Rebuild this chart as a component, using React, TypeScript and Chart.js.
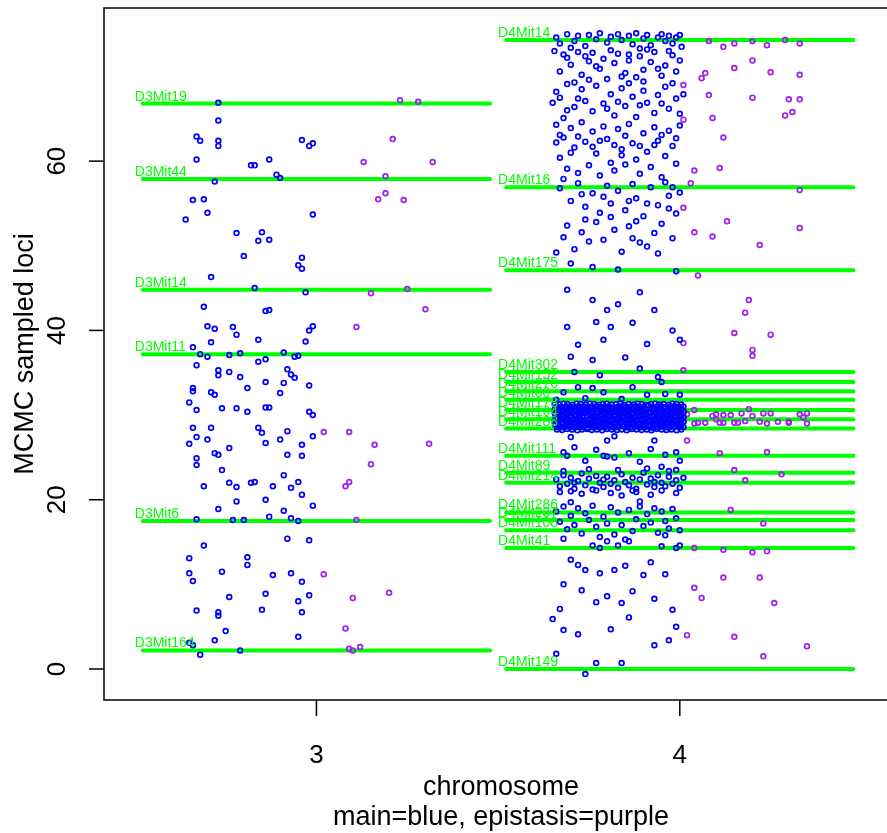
import { useEffect, useRef } from "react";
import { Chart, registerables } from "chart.js";

Chart.register(...registerables);

// ---------- axes ----------
const xTicks = [3, 4];
const yTicks = [0, 20, 40, 60];
const xTitle = "chromosome";
const xSubTitle = "main=blue, epistasis=purple";
const yTitle = "MCMC sampled loci";
const xMin = 2.4153;
const xMax = 4.5546;
const yMin = -3.66;
const yMax = 78.09;

// ---------- markers (green lines) ----------
const chr3MarkerNames = ["D3Mit164", "D3Mit6", "D3Mit11", "D3Mit14", "D3Mit44", "D3Mit19"];
const chr3MarkerLoci = [2.2, 17.5, 37.2, 44.8, 57.9, 66.8];
const chr4MarkerNames = [
  "D4Mit149", "D4Mit41", "D4Mit108", "D4Mit237", "D4Mit286", "D4Mit214", "D4Mit89",
  "D4Mit111", "D4Mit288", "D4Mit164", "D4Mit178", "D4Mit80", "D4Mit276", "D4Mit152",
  "D4Mit302", "D4Mit175", "D4Mit16", "D4Mit14",
];
const chr4MarkerLoci = [
  0.0, 14.3, 16.4, 17.6, 18.5, 22.0, 23.2, 25.2, 28.4, 29.5, 30.6, 31.8, 32.8, 33.9,
  35.1, 47.1, 56.9, 74.3,
];

// ---------- sampled loci: chromosome 3 ----------
const chr3Main: [number, number][] = [
  [2.73, 66.9], [2.73, 64.8], [2.67, 62.9], [2.68, 62.4], [2.73, 62.4], [2.73, 61.8],
  [2.96, 62.5], [2.98, 61.8], [2.99, 62.1], [2.67, 60.2], [2.82, 59.5], [2.83, 59.5],
  [2.87, 60.2], [2.89, 58.4], [2.9, 58.0], [2.72, 57.6], [2.66, 55.4], [2.69, 55.5],
  [2.64, 53.1], [2.7, 53.9], [2.99, 53.7], [2.78, 51.5], [2.85, 51.6], [2.8, 48.8],
  [2.84, 50.6], [2.87, 50.7], [2.95, 47.7], [2.96, 48.6], [2.96, 47.3], [2.71, 46.3],
  [2.83, 45.0], [2.97, 44.5], [2.86, 42.3], [2.87, 42.4], [2.69, 42.8], [2.7, 40.5],
  [2.72, 40.2], [2.77, 40.4], [2.78, 39.5], [2.71, 38.6], [2.84, 38.9], [2.99, 40.5],
  [2.98, 40.0], [2.97, 38.7], [2.94, 36.9], [2.95, 37.0], [2.79, 37.3], [2.76, 37.1],
  [2.66, 38.0], [2.68, 37.2], [2.7, 36.9], [2.67, 35.9], [2.86, 36.6], [2.91, 37.4],
  [2.84, 36.3], [2.92, 35.4], [2.93, 34.8], [2.73, 35.3], [2.76, 35.1], [2.66, 33.2],
  [2.66, 32.8], [2.73, 34.7], [2.79, 34.5], [2.86, 33.9], [2.71, 32.7], [2.72, 32.4],
  [2.81, 33.2], [2.91, 33.8], [2.94, 34.4], [2.9, 32.6], [2.98, 33.5], [2.74, 30.8],
  [2.78, 30.8], [2.81, 30.4], [2.86, 30.9], [2.87, 30.9], [2.98, 30.4], [2.99, 30.0],
  [2.65, 31.5], [2.67, 30.6], [2.66, 28.5], [2.67, 27.4], [2.7, 27.1], [2.71, 28.5],
  [2.65, 26.6], [2.72, 25.5], [2.76, 26.1], [2.84, 28.5], [2.85, 27.9], [2.92, 28.1],
  [2.86, 26.7], [2.9, 27.1], [2.92, 25.3], [2.96, 25.2], [2.96, 26.5], [2.99, 27.5],
  [2.67, 24.9], [2.73, 25.3], [2.67, 24.1], [2.69, 21.6], [2.74, 23.5], [2.76, 22.0],
  [2.78, 21.5], [2.82, 22.0], [2.83, 22.1], [2.88, 21.6], [2.91, 22.9], [2.93, 21.4],
  [2.95, 22.1], [2.78, 19.8], [2.86, 20.0], [2.96, 20.6], [2.73, 18.9], [2.67, 17.7],
  [2.77, 17.6], [2.8, 17.6], [2.87, 18.0], [2.91, 18.7], [2.93, 17.8], [2.99, 19.3],
  [2.95, 17.5], [2.98, 15.2], [2.92, 15.4], [2.69, 14.6], [2.65, 13.1], [2.81, 13.2],
  [2.65, 11.3], [2.66, 10.4], [2.74, 11.5], [2.81, 12.3], [2.88, 11.1], [2.93, 11.3],
  [2.96, 10.3], [2.73, 6.7], [2.73, 6.3], [2.76, 8.5], [2.85, 7.0], [2.86, 8.9],
  [2.95, 8.0], [2.96, 6.7], [2.98, 8.7], [2.95, 3.8], [2.75, 4.5], [2.67, 6.9],
  [2.72, 3.4], [2.65, 3.1], [2.79, 2.2], [2.68, 1.7], [2.66, 2.8],
];

const chr3Epistasis: [number, number][] = [
  [3.23, 67.2], [3.28, 67.0], [3.21, 62.6], [3.13, 59.9], [3.19, 58.2], [3.32, 59.9],
  [3.19, 56.2], [3.17, 55.5], [3.24, 55.4], [3.15, 44.4], [3.25, 44.9], [3.3, 42.5],
  [3.11, 40.4], [3.02, 28.0], [3.09, 28.0], [3.16, 26.5], [3.31, 26.6], [3.15, 24.2],
  [3.09, 22.1], [3.08, 21.6], [3.11, 17.6], [3.02, 11.2], [3.1, 8.4], [3.2, 9.0],
  [3.08, 4.8], [3.09, 2.4], [3.1, 2.2], [3.12, 2.6],
];

// ---------- sampled loci: chromosome 4 ----------
const chr4MainUpper: [number, number][] = [
  [3.66, 74.6], [3.67, 73.9], [3.69, 75.0], [3.71, 74.2], [3.72, 74.8], [3.74, 73.6],
  [3.75, 74.9], [3.77, 74.4], [3.78, 75.1], [3.8, 74.0], [3.81, 74.7], [3.83, 75.0],
  [3.84, 74.3], [3.86, 74.8], [3.87, 73.8], [3.88, 75.1], [3.9, 74.5], [3.91, 74.9],
  [3.92, 73.7], [3.94, 74.6], [3.95, 75.0], [3.96, 74.2], [3.97, 74.8], [3.98, 73.9],
  [3.99, 74.6], [4.0, 74.9], [3.7, 73.4], [3.89, 73.3],
  [3.655, 73.0], [3.69, 72.2], [3.74, 72.4], [3.81, 73.1], [3.86, 72.6], [3.91, 73.2],
  [3.97, 73.0], [4.005, 73.5],
  [3.68, 72.6], [3.7, 71.4], [3.72, 72.9], [3.73, 70.2], [3.75, 71.8], [3.76, 72.8],
  [3.78, 70.9], [3.79, 72.1], [3.8, 69.7], [3.82, 71.6], [3.83, 72.7], [3.85, 70.4],
  [3.86, 71.9], [3.88, 69.9], [3.89, 72.4], [3.9, 70.8], [3.92, 71.7], [3.93, 72.9],
  [3.95, 70.1], [3.96, 71.3], [3.98, 72.5], [3.99, 70.6], [4.0, 71.9],
  [3.67, 70.6], [3.71, 69.3], [3.77, 71.2], [3.84, 70.0], [3.9, 69.4], [3.94, 70.9],
  [3.98, 69.2],
  [3.66, 68.2], [3.67, 67.5], [3.69, 69.1], [3.71, 66.4], [3.73, 68.5], [3.74, 67.1],
  [3.76, 65.9], [3.77, 68.9], [3.79, 66.8], [3.81, 67.9], [3.82, 65.4], [3.84, 68.6],
  [3.85, 66.5], [3.87, 67.6], [3.88, 65.2], [3.9, 68.3], [3.91, 66.9], [3.93, 65.7],
  [3.94, 67.8], [3.96, 68.8], [3.97, 66.2], [3.99, 67.4], [4.0, 65.6], [3.65, 66.9],
  [3.68, 65.1], [3.75, 69.6], [3.86, 69.2],
  [3.69, 66.0], [3.72, 67.4], [3.8, 66.2], [3.83, 67.0], [3.89, 66.6], [3.95, 66.8],
  [4.01, 67.9],
  [3.66, 64.3], [3.68, 62.8], [3.7, 63.9], [3.71, 61.6], [3.73, 64.6], [3.74, 62.3],
  [3.76, 63.5], [3.77, 60.9], [3.79, 64.1], [3.8, 62.6], [3.81, 59.8], [3.83, 63.8],
  [3.84, 61.4], [3.86, 64.4], [3.87, 62.1], [3.88, 60.2], [3.9, 63.3], [3.91, 61.1],
  [3.93, 64.0], [3.94, 62.4], [3.96, 60.6], [3.97, 63.6], [3.98, 61.8], [4.0, 64.2],
  [3.67, 60.4], [3.69, 59.1], [3.72, 58.6], [3.75, 59.5], [3.78, 58.3], [3.82, 58.9],
  [3.85, 59.6], [3.89, 58.5], [3.92, 59.3], [3.95, 58.1], [3.99, 59.7], [3.7, 61.0],
  [3.84, 60.7], [3.93, 61.9], [3.76, 61.7], [3.66, 62.2],
  [3.67, 63.1], [3.72, 62.9], [3.78, 62.4], [3.82, 61.9], [3.85, 63.0], [3.89, 61.8],
  [3.95, 63.1], [3.99, 62.7],
  [3.67, 56.8], [3.7, 55.3], [3.72, 57.4], [3.74, 54.6], [3.76, 56.2], [3.78, 53.9],
  [3.8, 57.1], [3.81, 55.0], [3.83, 56.5], [3.85, 54.2], [3.87, 57.3], [3.88, 55.6],
  [3.9, 53.5], [3.92, 56.9], [3.94, 54.8], [3.96, 57.5], [3.97, 55.9], [3.99, 53.8],
  [4.0, 56.3], [3.69, 52.4], [3.73, 51.6], [3.77, 52.8], [3.79, 50.7], [3.82, 51.9],
  [3.86, 52.3], [3.89, 50.4], [3.93, 51.5], [3.95, 52.6], [3.98, 50.9], [3.71, 49.6],
  [3.84, 49.3], [3.91, 49.9], [3.66, 49.2],
  [3.68, 57.9], [3.73, 56.1], [3.79, 55.8], [3.86, 55.3], [3.91, 55.0], [3.98, 56.9],
  [3.74, 53.1], [3.81, 53.4], [3.88, 52.9], [3.97, 54.4], [3.68, 51.0], [3.75, 50.5],
  [3.87, 50.9], [3.94, 49.1],
  [3.76, 47.5], [3.83, 47.2], [3.99, 47.0], [3.7, 47.9],
  [3.69, 44.8], [3.76, 43.6], [3.89, 44.5], [3.8, 42.4], [3.83, 43.1], [3.77, 41.0],
  [3.69, 40.4], [3.81, 40.4], [3.87, 40.9], [3.72, 38.3], [3.79, 38.9], [3.7, 36.9],
  [3.76, 36.5], [3.85, 36.8], [3.91, 38.4], [3.98, 40.0], [3.93, 42.4], [4.0, 38.9],
  [3.71, 35.1], [3.78, 34.7], [3.89, 35.5], [3.94, 34.5], [3.72, 33.3], [3.76, 33.2],
  [3.79, 32.7], [3.87, 33.3], [3.95, 33.9], [3.96, 32.5], [3.74, 32.0], [3.84, 31.9],
  [3.91, 32.4], [3.68, 32.7], [4.0, 32.4], [3.66, 31.8],
];

// dense cluster of sampled loci around 28-31.5 cM on chromosome 4
const chr4MainCluster: [number, number][] = [
  [3.656, 31.3], [3.669, 31.25], [3.68, 31.35], [3.691, 31.3], [3.705, 31.2], [3.716, 31.35],
  [3.727, 31.3], [3.741, 31.25], [3.752, 31.35], [3.764, 31.3], [3.777, 31.2], [3.788, 31.3],
  [3.799, 31.35], [3.812, 31.25], [3.825, 31.3], [3.836, 31.35], [3.847, 31.2], [3.86, 31.3],
  [3.873, 31.25], [3.884, 31.35], [3.895, 31.3], [3.908, 31.2], [3.921, 31.3], [3.932, 31.35],
  [3.943, 31.25], [3.956, 31.3], [3.969, 31.2], [3.98, 31.35], [3.991, 31.3], [4.004, 31.25],
  [3.662, 31.0], [3.674, 30.95], [3.687, 31.05], [3.698, 31.0], [3.709, 30.95], [3.722, 31.05],
  [3.735, 31.0], [3.746, 30.9], [3.757, 31.0], [3.77, 31.05], [3.783, 30.95], [3.794, 31.0],
  [3.805, 31.05], [3.818, 30.9], [3.831, 31.0], [3.842, 31.05], [3.853, 30.95], [3.866, 31.0],
  [3.879, 31.05], [3.89, 30.95], [3.901, 31.0], [3.914, 31.1], [3.927, 30.95], [3.938, 31.0],
  [3.949, 31.05], [3.962, 30.95], [3.975, 31.0], [3.986, 31.05], [3.997, 30.95], [4.01, 31.0],
  [3.656, 30.7], [3.668, 30.75], [3.681, 30.65], [3.692, 30.7], [3.703, 30.75], [3.716, 30.65],
  [3.729, 30.7], [3.74, 30.75], [3.751, 30.6], [3.764, 30.7], [3.777, 30.75], [3.788, 30.65],
  [3.8, 30.7], [3.813, 30.75], [3.824, 30.65], [3.835, 30.7], [3.848, 30.75], [3.861, 30.6],
  [3.872, 30.7], [3.883, 30.75], [3.896, 30.65], [3.909, 30.7], [3.92, 30.75], [3.931, 30.65],
  [3.944, 30.7], [3.957, 30.8], [3.968, 30.65], [3.979, 30.7], [3.992, 30.75], [4.005, 30.65],
  [3.662, 30.4], [3.675, 30.45], [3.686, 30.35], [3.697, 30.4], [3.71, 30.45], [3.723, 30.35],
  [3.734, 30.4], [3.745, 30.45], [3.758, 30.35], [3.771, 30.4], [3.782, 30.5], [3.793, 30.35],
  [3.806, 30.4], [3.819, 30.45], [3.83, 30.35], [3.841, 30.4], [3.854, 30.45], [3.867, 30.3],
  [3.878, 30.4], [3.889, 30.45], [3.902, 30.35], [3.915, 30.4], [3.926, 30.45], [3.937, 30.35],
  [3.95, 30.4], [3.963, 30.45], [3.974, 30.35], [3.985, 30.4], [3.998, 30.45], [4.011, 30.4],
  [3.657, 30.1], [3.668, 30.15], [3.679, 30.05], [3.692, 30.1], [3.705, 30.15], [3.716, 30.05],
  [3.727, 30.1], [3.74, 30.2], [3.753, 30.05], [3.764, 30.1], [3.775, 30.15], [3.788, 30.05],
  [3.801, 30.1], [3.812, 30.15], [3.823, 30.0], [3.836, 30.1], [3.849, 30.15], [3.86, 30.05],
  [3.871, 30.1], [3.884, 30.15], [3.897, 30.05], [3.908, 30.1], [3.919, 30.2], [3.932, 30.05],
  [3.945, 30.1], [3.956, 30.15], [3.967, 30.05], [3.98, 30.1], [3.993, 30.15], [4.004, 30.05],
  [3.663, 29.8], [3.674, 29.85], [3.685, 29.75], [3.698, 29.8], [3.711, 29.85], [3.722, 29.75],
  [3.733, 29.8], [3.746, 29.9], [3.759, 29.75], [3.77, 29.8], [3.781, 29.85], [3.794, 29.75],
  [3.807, 29.8], [3.818, 29.85], [3.829, 29.7], [3.842, 29.8], [3.855, 29.85], [3.866, 29.75],
  [3.877, 29.8], [3.89, 29.85], [3.903, 29.75], [3.914, 29.8], [3.925, 29.9], [3.938, 29.75],
  [3.951, 29.8], [3.962, 29.85], [3.973, 29.75], [3.986, 29.8], [3.999, 29.85], [4.01, 29.75],
  [3.656, 29.5], [3.669, 29.45], [3.68, 29.55], [3.691, 29.5], [3.704, 29.45], [3.717, 29.55],
  [3.728, 29.5], [3.739, 29.4], [3.752, 29.5], [3.765, 29.55], [3.776, 29.45], [3.787, 29.5],
  [3.8, 29.55], [3.813, 29.45], [3.824, 29.5], [3.835, 29.6], [3.848, 29.45], [3.861, 29.5],
  [3.872, 29.55], [3.883, 29.45], [3.896, 29.5], [3.909, 29.55], [3.92, 29.4], [3.931, 29.5],
  [3.944, 29.55], [3.957, 29.45], [3.968, 29.5], [3.979, 29.55], [3.992, 29.45], [4.005, 29.5],
  [3.662, 29.2], [3.675, 29.15], [3.686, 29.25], [3.697, 29.2], [3.71, 29.15], [3.723, 29.25],
  [3.734, 29.2], [3.745, 29.1], [3.758, 29.2], [3.771, 29.25], [3.782, 29.15], [3.793, 29.2],
  [3.806, 29.3], [3.819, 29.15], [3.83, 29.2], [3.841, 29.25], [3.854, 29.15], [3.867, 29.2],
  [3.878, 29.25], [3.889, 29.1], [3.902, 29.2], [3.915, 29.25], [3.926, 29.15], [3.937, 29.2],
  [3.95, 29.25], [3.963, 29.15], [3.974, 29.2], [3.985, 29.3], [3.998, 29.15], [4.01, 29.2],
  [3.657, 28.9], [3.668, 28.85], [3.679, 28.95], [3.692, 28.9], [3.705, 28.85], [3.716, 28.95],
  [3.727, 28.9], [3.74, 28.8], [3.753, 28.9], [3.764, 28.95], [3.775, 28.85], [3.788, 28.9],
  [3.801, 28.95], [3.812, 28.85], [3.823, 28.9], [3.836, 29.0], [3.849, 28.85], [3.86, 28.9],
  [3.871, 28.95], [3.884, 28.85], [3.897, 28.9], [3.908, 28.95], [3.919, 28.8], [3.932, 28.9],
  [3.945, 28.95], [3.956, 28.85], [3.967, 28.9], [3.98, 28.95], [3.993, 28.85], [4.004, 28.9],
  [3.663, 28.6], [3.674, 28.55], [3.685, 28.65], [3.698, 28.6], [3.711, 28.55], [3.722, 28.65],
  [3.733, 28.6], [3.746, 28.5], [3.759, 28.6], [3.77, 28.65], [3.781, 28.55], [3.794, 28.6],
  [3.807, 28.65], [3.818, 28.55], [3.829, 28.6], [3.842, 28.7], [3.855, 28.55], [3.866, 28.6],
  [3.877, 28.65], [3.89, 28.55], [3.903, 28.6], [3.914, 28.65], [3.925, 28.5], [3.938, 28.6],
  [3.951, 28.65], [3.962, 28.55], [3.973, 28.6], [3.986, 28.65], [3.999, 28.55], [4.01, 28.6],
  [3.662, 28.3], [3.676, 28.25], [3.69, 28.35], [3.704, 28.3], [3.718, 28.2], [3.731, 28.3],
  [3.745, 28.35], [3.758, 28.25], [3.772, 28.3], [3.786, 28.2], [3.799, 28.35], [3.813, 28.3],
  [3.827, 28.25], [3.84, 28.3], [3.854, 28.2], [3.868, 28.35], [3.881, 28.3], [3.895, 28.25],
  [3.909, 28.3], [3.922, 28.2], [3.936, 28.35], [3.95, 28.3], [3.963, 28.25], [3.977, 28.3],
  [3.991, 28.2], [4.004, 28.3],
];

const chr4MainLower: [number, number][] = [
  [3.7, 27.4], [3.82, 27.5], [3.93, 27.0], [3.8, 27.0], [3.71, 26.2],
  [3.68, 25.6], [3.69, 25.2], [3.74, 24.6], [3.77, 25.9], [3.79, 25.2], [3.8, 25.1],
  [3.82, 25.0], [3.86, 25.5], [3.89, 24.5], [3.92, 26.0], [3.96, 25.3], [3.99, 25.6],
  [4.0, 24.6], [3.99, 23.5], [3.95, 23.9],
  [3.66, 22.4], [3.67, 21.6], [3.68, 22.9], [3.69, 21.9], [3.7, 22.6], [3.71, 21.3],
  [3.72, 22.2], [3.73, 23.1], [3.74, 21.7], [3.75, 22.5], [3.76, 21.2], [3.77, 22.8],
  [3.78, 22.0], [3.79, 21.5], [3.8, 22.7], [3.81, 21.9], [3.82, 22.3], [3.83, 21.4],
  [3.84, 23.0], [3.85, 22.1], [3.86, 21.7], [3.87, 22.6], [3.88, 21.3], [3.89, 22.4],
  [3.9, 23.2], [3.91, 21.8], [3.92, 22.5], [3.93, 21.5], [3.94, 22.9], [3.95, 22.0],
  [3.96, 21.6], [3.97, 22.7], [3.98, 21.9], [3.99, 22.3], [4.0, 21.4], [4.01, 22.6],
  [3.67, 20.9], [3.7, 21.0], [3.73, 20.7], [3.77, 21.1], [3.81, 20.8], [3.84, 20.5],
  [3.88, 20.9], [3.92, 20.6], [3.95, 21.1], [3.99, 20.8], [3.68, 23.4], [3.75, 23.6],
  [3.83, 23.5], [3.91, 23.7], [3.97, 23.4], [3.71, 22.0], [3.79, 22.4], [3.87, 21.1],
  [3.93, 22.1],
  [3.66, 18.6], [3.67, 17.4], [3.68, 19.2], [3.69, 16.5], [3.7, 18.1], [3.71, 17.0],
  [3.72, 19.0], [3.73, 16.0], [3.74, 18.4], [3.75, 17.6], [3.76, 19.3], [3.77, 16.8],
  [3.79, 18.0], [3.8, 17.2], [3.81, 19.1], [3.82, 15.9], [3.83, 18.5], [3.84, 17.0],
  [3.86, 18.8], [3.87, 16.3], [3.88, 17.7], [3.89, 19.2], [3.9, 16.9], [3.91, 18.3],
  [3.92, 17.3], [3.93, 19.0], [3.94, 16.1], [3.95, 18.6], [3.96, 17.5], [3.97, 16.6],
  [3.98, 18.9], [3.99, 17.8], [4.0, 16.4], [3.68, 15.4], [3.78, 15.6], [3.85, 15.3],
  [3.96, 15.8], [3.7, 19.7], [3.89, 19.8],
  [3.76, 14.6], [3.78, 14.3], [3.8, 15.1], [3.83, 14.6], [3.86, 15.1], [3.95, 14.5],
  [3.99, 14.3], [4.0, 14.6], [3.7, 12.9], [3.72, 12.3], [3.74, 11.7], [3.78, 11.3],
  [3.82, 11.7], [3.85, 12.2], [3.9, 11.1], [3.92, 12.6], [3.96, 11.2], [3.68, 10.0],
  [3.73, 9.3], [3.77, 7.9], [3.8, 8.6], [3.84, 7.8], [3.87, 9.2], [3.93, 8.3],
  [3.98, 7.0], [3.86, 6.1], [3.81, 4.7], [3.68, 4.6], [3.72, 4.1], [3.65, 5.9],
  [3.99, 5.0], [3.84, 0.7], [3.77, 0.7], [3.74, -0.6], [3.93, 2.8], [3.66, 1.8],
  [3.67, 7.1], [3.97, 3.4],
];

const chr4Epistasis: [number, number][] = [
  [4.08, 74.2], [4.12, 73.5], [4.15, 73.9], [4.2, 74.2], [4.24, 73.7], [4.29, 74.3],
  [4.33, 73.9], [4.2, 71.9], [4.15, 71.0], [4.07, 70.4], [4.06, 69.8], [4.25, 70.5],
  [4.33, 70.2], [4.01, 69.0], [4.08, 67.8], [4.2, 67.5], [4.3, 67.3], [4.33, 67.3],
  [4.09, 65.1], [4.29, 65.4], [4.31, 65.8], [4.12, 62.8], [4.01, 64.9], [4.04, 58.9],
  [4.11, 59.2], [4.03, 57.4], [4.33, 56.6], [4.01, 54.5], [4.13, 52.9], [4.09, 51.1],
  [4.04, 51.6], [4.33, 52.1], [4.22, 50.1], [4.05, 46.5], [4.19, 43.6], [4.18, 42.1],
  [4.15, 39.7], [4.25, 39.5], [4.2, 37.7], [4.2, 37.0], [4.01, 38.5], [4.01, 35.3],
  [4.01, 29.8], [4.01, 29.2], [4.02, 30.1], [4.04, 30.6], [4.04, 29.0], [4.05, 29.1],
  [4.07, 29.1], [4.09, 29.9], [4.1, 30.1], [4.11, 29.1], [4.12, 30.0], [4.12, 29.1],
  [4.14, 30.0], [4.15, 29.1], [4.16, 29.1], [4.17, 30.2], [4.18, 29.3], [4.19, 30.7],
  [4.2, 29.9], [4.22, 29.2], [4.23, 30.2], [4.24, 29.0], [4.25, 30.2], [4.27, 29.2],
  [4.3, 29.2], [4.3, 29.1], [4.33, 30.1], [4.34, 29.7], [4.35, 30.2], [4.35, 29.0],
  [4.1, 29.5],
  [4.02, 27.0], [4.11, 25.5], [4.24, 25.6], [4.15, 23.5], [4.28, 23.0], [4.18, 22.3],
  [4.14, 18.8], [4.23, 17.2], [4.04, 14.3], [4.12, 14.1], [4.2, 13.8], [4.24, 13.9],
  [4.22, 10.8], [4.12, 10.8], [4.06, 8.4], [4.26, 7.8], [4.02, 4.0], [4.15, 3.8],
  [4.23, 1.5], [4.35, 2.7], [4.04, 9.6],
];

const MAIN_COLOR = "#0000FF";
const EPI_COLOR = "#A020F0";
const MARKER_COLOR = "#00FF00";
const FONT = '"Liberation Sans", Arial, Helvetica, sans-serif';

export default function App() {
  const ref = useRef<HTMLCanvasElement | null>(null);

  useEffect(() => {
    const canvas = ref.current;
    if (!canvas) return;
    const halfLen = 0.478;
    const labelOffset = 0.5;
    const toPts = (arr: [number, number][]) => arr.map(([x, y]) => ({ x, y }));
    const lineData = (chr: number, loci: number[]) => {
      const d: { x: number; y: number | null }[] = [];
      loci.forEach((y) => {
        d.push({ x: chr - halfLen, y }, { x: chr + halfLen, y }, { x: chr + halfLen, y: null });
      });
      return d;
    };

    const pointDs = (arr: [number, number][], color: string) => ({
      type: "scatter" as const,
      data: toPts(arr),
      borderColor: color,
      backgroundColor: "rgba(0,0,0,0)",
      pointRadius: 2.4,
      pointBorderWidth: 1.7,
      borderWidth: 1.7,
      pointStyle: "circle" as const,
      order: 1,
    });

    const markerLabels = {
      id: "markerLabels",
      afterDatasetsDraw(chart: any) {
        const { ctx, scales } = chart;
        const xs = scales.x;
        const ys = scales.y;
        ctx.save();
        ctx.fillStyle = MARKER_COLOR;
        ctx.font = `14px ${FONT}`;
        ctx.textAlign = "left";
        ctx.textBaseline = "alphabetic";
        const draw = (chr: number, names: string[], loci: number[]) => {
          names.forEach((n, i) => {
            ctx.fillText(n, xs.getPixelForValue(chr - labelOffset), ys.getPixelForValue(loci[i]) - 3);
          });
        };
        draw(3, chr3MarkerNames, chr3MarkerLoci);
        draw(4, chr4MarkerNames, chr4MarkerLoci);
        ctx.restore();
      },
    };

    const rAxes = {
      id: "rAxes",
      afterDraw(chart: any) {
        const { ctx, scales, chartArea } = chart;
        const xs = scales.x;
        const ys = scales.y;
        ctx.save();
        ctx.strokeStyle = "#000";
        ctx.fillStyle = "#000";
        ctx.lineWidth = 1.5;
        // box (right side lies beyond the canvas)
        ctx.beginPath();
        ctx.moveTo(chartArea.right + 20, chartArea.top);
        ctx.lineTo(chartArea.left, chartArea.top);
        ctx.lineTo(chartArea.left, chartArea.bottom);
        ctx.lineTo(chartArea.right + 20, chartArea.bottom);
        ctx.stroke();
        // y ticks
        ctx.font = `26px ${FONT}`;
        yTicks.forEach((v) => {
          const py = ys.getPixelForValue(v);
          ctx.beginPath();
          ctx.moveTo(chartArea.left - 15, py);
          ctx.lineTo(chartArea.left, py);
          ctx.stroke();
          ctx.save();
          ctx.translate(chartArea.left - 39, py);
          ctx.rotate(-Math.PI / 2);
          ctx.textAlign = "center";
          ctx.textBaseline = "alphabetic";
          ctx.fillText(String(v), 0, 0);
          ctx.restore();
        });
        // x ticks
        xTicks.forEach((v) => {
          const px = xs.getPixelForValue(v);
          ctx.beginPath();
          ctx.moveTo(px, chartArea.bottom);
          ctx.lineTo(px, chartArea.bottom + 16);
          ctx.stroke();
          ctx.textAlign = "center";
          ctx.textBaseline = "alphabetic";
          ctx.fillText(String(v), px, chartArea.bottom + 63);
        });
        // titles
        ctx.font = `27px ${FONT}`;
        ctx.textAlign = "center";
        ctx.fillText(xTitle, 501, 795);
        ctx.fillText(xSubTitle, 501, 825);
        ctx.save();
        ctx.translate(33, (chartArea.top + chartArea.bottom) / 2);
        ctx.rotate(-Math.PI / 2);
        ctx.fillText(yTitle, 0, 0);
        ctx.restore();
        ctx.restore();
      },
    };

    const chart = new Chart(canvas, {
      type: "scatter",
      data: {
        datasets: [
          {
            type: "line",
            data: lineData(3, chr3MarkerLoci),
            borderColor: MARKER_COLOR,
            borderWidth: 4,
            borderCapStyle: "round",
            pointRadius: 0,
            spanGaps: false,
            fill: false,
            order: 2,
          } as any,
          {
            type: "line",
            data: lineData(4, chr4MarkerLoci),
            borderColor: MARKER_COLOR,
            borderWidth: 4,
            borderCapStyle: "round",
            pointRadius: 0,
            spanGaps: false,
            fill: false,
            order: 2,
          } as any,
          pointDs(chr3Main, MAIN_COLOR),
          pointDs(chr3Epistasis, EPI_COLOR),
          pointDs(chr4MainUpper, MAIN_COLOR),
          pointDs(chr4MainCluster, MAIN_COLOR),
          pointDs(chr4MainLower, MAIN_COLOR),
          pointDs(chr4Epistasis, EPI_COLOR),
        ],
      },
      options: {
        animation: false,
        responsive: false,
        devicePixelRatio: 1,
        events: [],
        layout: { padding: { left: 104, top: 8, right: 0, bottom: 133 } },
        scales: {
          x: { type: "linear", min: xMin, max: xMax, display: false },
          y: { type: "linear", min: yMin, max: yMax, display: false },
        },
        plugins: { legend: { display: false }, tooltip: { enabled: false } },
      },
      plugins: [markerLabels, rAxes],
    });
    return () => chart.destroy();
  }, []);

  return (
    <div style={{ position: "absolute", left: 0, top: 0, width: 887, height: 833, background: "#fff" }}>
      <canvas ref={ref} width={887} height={833} style={{ display: "block" }} />
    </div>
  );
}
